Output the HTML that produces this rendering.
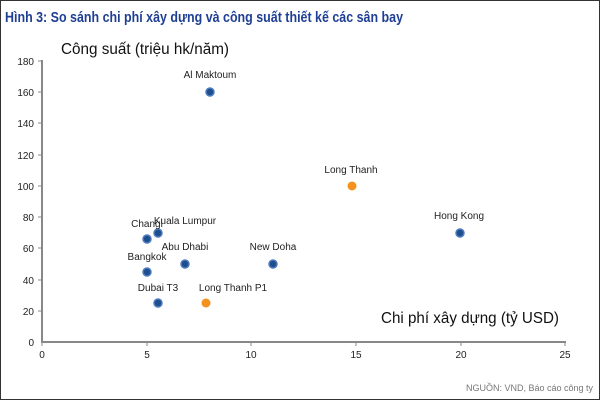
<!DOCTYPE html>
<html><head><meta charset="utf-8"><style>
body{margin:0;background:#fff}
.w{position:relative;width:598px;height:398px;border:1px solid #333;overflow:hidden;font-family:"Liberation Sans",sans-serif}
</style></head><body><div class="w">
<svg width="598" height="398" viewBox="0 0 598 398" xmlns="http://www.w3.org/2000/svg" font-family="Liberation Sans, sans-serif">
<text x="4" y="21" font-size="14.5" font-weight="bold" fill="#1f3f95" textLength="398" lengthAdjust="spacingAndGlyphs">Hình 3: So sánh chi phí xây dựng và công suất thiết kế các sân bay</text>
<text x="60" y="53" font-size="15.5" fill="#111" textLength="168" lengthAdjust="spacingAndGlyphs">Công suất (triệu hk/năm)</text>
<text x="380" y="322" font-size="15.5" fill="#111" textLength="178" lengthAdjust="spacingAndGlyphs">Chi phí xây dựng (tỷ USD)</text>
<g stroke="#888" stroke-width="2">
<line x1="41" y1="59" x2="41" y2="341"/>
<line x1="40" y1="341" x2="565" y2="341"/>
</g>
<g stroke="#888" stroke-width="1">
<line x1="37" y1="60" x2="41" y2="60"/><line x1="37" y1="91" x2="41" y2="91"/><line x1="37" y1="122" x2="41" y2="122"/><line x1="37" y1="154" x2="41" y2="154"/><line x1="37" y1="185" x2="41" y2="185"/><line x1="37" y1="216" x2="41" y2="216"/><line x1="37" y1="247" x2="41" y2="247"/><line x1="37" y1="279" x2="41" y2="279"/><line x1="37" y1="310" x2="41" y2="310"/>
<line x1="41" y1="341" x2="41" y2="345"/><line x1="146" y1="341" x2="146" y2="345"/><line x1="250" y1="341" x2="250" y2="345"/><line x1="355" y1="341" x2="355" y2="345"/><line x1="460" y1="341" x2="460" y2="345"/><line x1="564" y1="341" x2="564" y2="345"/>
</g>
<g font-size="10" fill="#222" text-anchor="end">
<text x="33" y="64">180</text><text x="33" y="95">160</text><text x="33" y="126">140</text><text x="33" y="158">120</text><text x="33" y="189">100</text><text x="33" y="220">80</text><text x="33" y="251">60</text><text x="33" y="283">40</text><text x="33" y="314">20</text><text x="33" y="345">0</text>
</g>
<g font-size="10" fill="#222" text-anchor="middle">
<text x="41" y="357">0</text><text x="146" y="357">5</text><text x="250" y="357">10</text><text x="355" y="357">15</text><text x="460" y="357">20</text><text x="564" y="357">25</text>
</g>
<g fill="#1f4e8c" stroke="#4d7cc0" stroke-width="1.5">
<circle cx="209" cy="91" r="4"/><circle cx="459" cy="232" r="4"/><circle cx="146" cy="238" r="4"/><circle cx="157" cy="232" r="4"/><circle cx="184" cy="263" r="4"/><circle cx="272" cy="263" r="4"/><circle cx="146" cy="271" r="4"/><circle cx="157" cy="302" r="4"/>
</g>
<g fill="#f5921e"><circle cx="351" cy="185" r="4.5"/><circle cx="205" cy="302" r="4.5"/></g>
<g font-size="10" fill="#222" text-anchor="middle">
<text x="209" y="77">Al Maktoum</text><text x="350" y="172">Long Thanh</text><text x="458" y="218">Hong Kong</text>
<text x="146" y="226">Changi</text><text x="184" y="223">Kuala Lumpur</text><text x="184" y="249">Abu Dhabi</text><text x="272" y="249">New Doha</text><text x="146" y="259">Bangkok</text><text x="157" y="290">Dubai T3</text><text x="232" y="290">Long Thanh P1</text>
</g>
<text x="592" y="390" font-size="9" fill="#777" text-anchor="end">NGUỒN: VND, Báo cáo công ty</text>
</svg></div></body></html>
